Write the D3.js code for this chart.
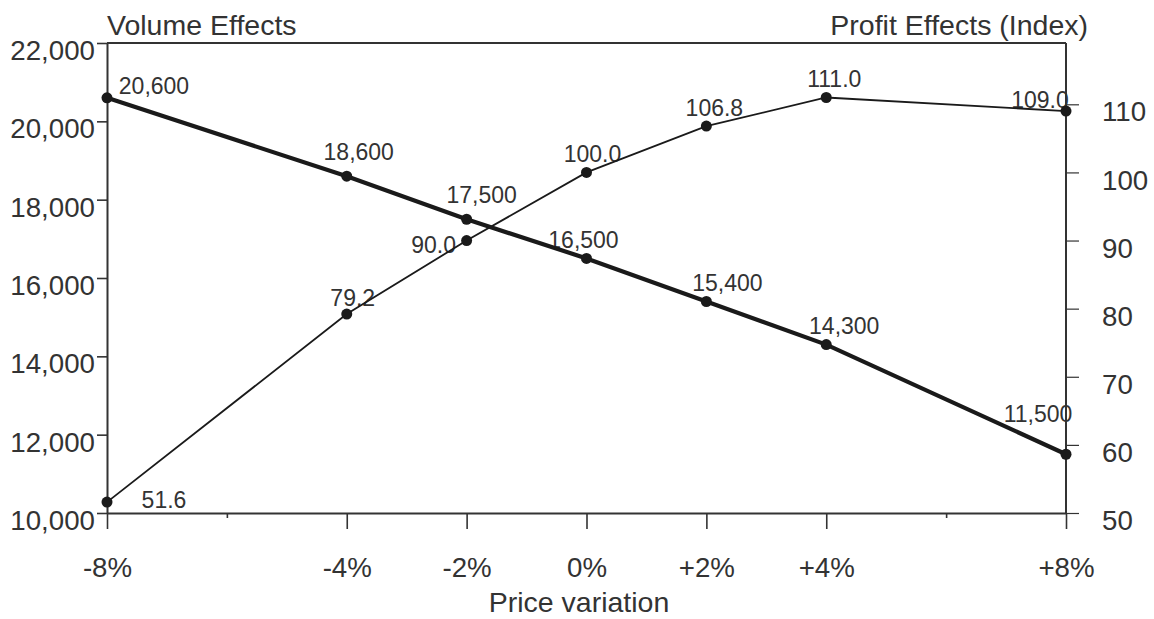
<!DOCTYPE html>
<html>
<head>
<meta charset="utf-8">
<script src="https://cdn.jsdelivr.net/npm/d3@7"></script>
<style>
  html, body { margin: 0; padding: 0; background: #fff; }
  svg { display: block; font-family: "Liberation Sans", Arial, sans-serif; }
</style>
</head>
<body>
<svg id="chart" width="1154" height="619"></svg>
<script>
// ---- Data ----
const priceVariation = [-8, -4, -2, 0, 2, 4, 8];
const priceLabels = ["-8%", "-4%", "-2%", "0%", "+2%", "+4%", "+8%"];
const volume = [20600, 18600, 17500, 16500, 15400, 14300, 11500];
const profitIndex = [51.6, 79.2, 90.0, 100.0, 106.8, 111.0, 109.0];
const volumeTicks = [10000, 12000, 14000, 16000, 18000, 20000, 22000];
const profitTicks = [50, 60, 70, 80, 90, 100, 110];
const xTicks = [-8, -6, -4, -2, 0, 2, 4, 6, 8];

// ---- Layout (label offsets relative to each point) ----
const volLabelOff = [[47, -4], [12, -16], [15, -16], [-3, -10], [21, -11], [18, -11], [-28, -32]];
const profLabelOff = [[57, 6], [6, -8], [-33, 12], [6, -10], [8, -10], [8, -10], [-26, -3]];

const svg = d3.select("#chart");
const L = 107, R = 1066, T = 43, B = 513;
const ink = "#1a1a1a", txt = "#333";

const x = d3.scaleLinear().domain([-8, 8]).range([L, R]);
const yL = d3.scaleLinear().domain([10000, 22000]).range([B, T]);
const yR = d3.scaleLinear().domain([50, 119]).range([B, T]);

// ---- Data labels (under axes) ----
const gl = svg.append("g").attr("font-size", 23).attr("fill", txt).attr("text-anchor", "middle");
gl.selectAll(".vl").data(volume).join("text")
  .attr("x", (d, i) => x(priceVariation[i]) + volLabelOff[i][0])
  .attr("y", (d, i) => yL(d) + volLabelOff[i][1])
  .text(d => d3.format(",")(d));
gl.selectAll(".pl").data(profitIndex).join("text")
  .attr("x", (d, i) => x(priceVariation[i]) + profLabelOff[i][0])
  .attr("y", (d, i) => yR(d) + profLabelOff[i][1])
  .text(d => d3.format(".1f")(d));

// ---- Axes ----
function styleAxis(g) {
  g.selectAll(".domain").attr("stroke", "#333").attr("stroke-width", 2);
  g.selectAll(".tick line").attr("stroke", "#333").attr("stroke-width", 1.6);
  g.selectAll(".tick text").attr("fill", txt).attr("font-size", 27.7)
    .attr("font-family", "Liberation Sans, Arial, sans-serif");
}

// top frame line
svg.append("line").attr("x1", L).attr("x2", R).attr("y1", T).attr("y2", T)
  .attr("stroke", "#333").attr("stroke-width", 2);

const gLeft = svg.append("g").attr("transform", `translate(${L},0)`)
  .call(d3.axisLeft(yL).tickValues(volumeTicks).tickSize(10).tickSizeOuter(0)
    .tickPadding(2).tickFormat(d3.format(",")));
styleAxis(gLeft);
gLeft.selectAll(".tick text").attr("dy", "0.6em");

const gRight = svg.append("g").attr("transform", `translate(${R},0)`)
  .call(d3.axisRight(yR).tickValues(profitTicks).tickSize(13).tickSizeOuter(0)
    .tickPadding(23));
styleAxis(gRight);
gRight.selectAll(".tick line").attr("stroke-width", 1.2);
gRight.selectAll(".tick text").attr("dy", "0.6em");
gRight.select(".domain").attr("d", `M0,${T}V${B}`);

const gBottom = svg.append("g").attr("transform", `translate(0,${B})`)
  .call(d3.axisBottom(x).tickValues(xTicks).tickSize(16).tickSizeOuter(0).tickPadding(28)
    .tickFormat(d => {
      const i = priceVariation.indexOf(d);
      return i >= 0 ? priceLabels[i] : "";
    }));
styleAxis(gBottom);
gBottom.selectAll(".tick").filter(d => priceVariation.indexOf(d) < 0)
  .select("line").attr("y2", 5);

// titles
svg.append("text").attr("x", L).attr("y", 35).attr("font-size", 28.5).attr("fill", txt)
  .text("Volume Effects");
svg.append("text").attr("x", 1088).attr("y", 35).attr("font-size", 28.5).attr("fill", txt)
  .attr("text-anchor", "end").text("Profit Effects (Index)");
svg.append("text").attr("x", 579).attr("y", 612).attr("font-size", 28.5).attr("fill", txt)
  .attr("text-anchor", "middle").text("Price variation");

// ---- Lines ----
const volLine = d3.line().x((d, i) => x(priceVariation[i])).y(d => yL(d));
const profLine = d3.line().x((d, i) => x(priceVariation[i])).y(d => yR(d));
svg.append("path").datum(profitIndex).attr("d", profLine)
  .attr("fill", "none").attr("stroke", ink).attr("stroke-width", 1.8);
svg.append("path").datum(volume).attr("d", volLine)
  .attr("fill", "none").attr("stroke", ink).attr("stroke-width", 4.2);

// ---- Dots ----
svg.selectAll(".vd").data(volume).join("circle")
  .attr("cx", (d, i) => x(priceVariation[i])).attr("cy", d => yL(d)).attr("r", 5.5).attr("fill", ink);
svg.selectAll(".pd").data(profitIndex).join("circle")
  .attr("cx", (d, i) => x(priceVariation[i])).attr("cy", d => yR(d)).attr("r", 5.5).attr("fill", ink);
</script>
</body>
</html>
